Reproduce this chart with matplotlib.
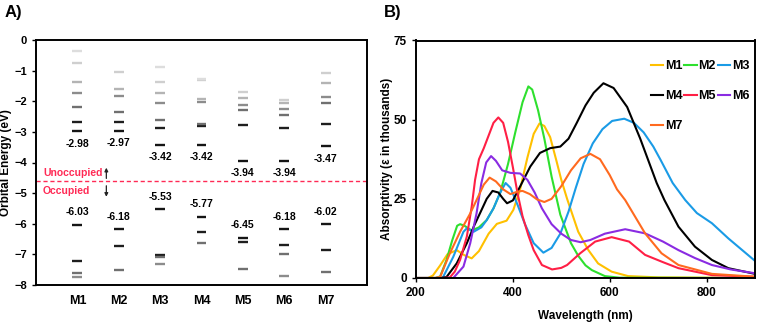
import numpy as np
import matplotlib.pyplot as plt
from matplotlib.lines import Line2D

plt.rcParams["font.family"] = ["Liberation Sans", "DejaVu Sans"]
plt.rcParams["font.weight"] = "bold"

# ---------------- panel A: orbital energies (eV) ----------------
molecules = ["M1", "M2", "M3", "M4", "M5", "M6", "M7"]
# unoccupied levels, LUMO first
m1_unocc = [-2.98, -2.68, -2.19, -1.73, -1.37, -0.76, -0.36]
m2_unocc = [-2.97, -2.68, -2.34, -1.84, -1.59, -1.05]
m3_unocc = [-3.42, -2.87, -2.61, -2.06, -1.73, -1.37, -0.87]
m4_unocc = [-3.42, -2.82, -2.74, -2.02, -1.92, -1.31, -1.26]
m5_unocc = [-3.94, -2.77, -2.29, -2.12, -1.89, -1.70]
m6_unocc = [-3.94, -2.87, -2.46, -2.25, -2.05, -1.97]
m7_unocc = [-3.47, -2.74, -2.07, -1.86, -1.42, -1.08]
# occupied levels, HOMO first
m1_occ = [-6.03, -7.23, -7.60, -7.75]
m2_occ = [-6.18, -6.74, -7.52]
m3_occ = [-5.53, -7.02, -7.09, -7.31]
m4_occ = [-5.77, -6.27, -6.62]
m5_occ = [-6.45, -6.61, -7.47]
m6_occ = [-6.18, -6.69, -6.98, -7.70]
m7_occ = [-6.02, -6.87, -7.57]
unocc_levels = [m1_unocc, m2_unocc, m3_unocc, m4_unocc, m5_unocc, m6_unocc, m7_unocc]
occ_levels = [m1_occ, m2_occ, m3_occ, m4_occ, m5_occ, m6_occ, m7_occ]
fermi_line = -4.61

# ---------------- panel B: absorption spectra ----------------
m1_nm = [200, 225, 235, 250, 265, 284, 300, 315, 330, 350, 367, 387, 401, 415, 430, 443, 455, 465, 477,
         490, 500, 512, 535, 556, 576, 604, 638, 700, 900]
m1_eps = [0, 0, 0.8, 4, 7.5, 8.8, 7.2, 6.2, 8.5, 14, 17.1, 18.1, 21.5, 28, 38, 45.5, 48.8, 48, 44.5,
          37, 31, 25, 14.6, 8.8, 4.6, 2, 0.6, 0.2, 0]
m2_nm = [200, 240, 250, 263, 275, 285, 291, 300, 315, 330, 346, 360, 374, 390, 405, 420, 432, 440, 452,
         465, 480, 498, 520, 535, 550, 563, 590, 620, 900]
m2_eps = [0, 0, 0.5, 5.7, 12, 16.5, 17, 16.5, 15, 16, 18.3, 22, 27, 36, 46, 55.5, 60.5, 59.5, 53,
          44, 32, 20, 11, 7, 4, 2.5, 0.6, 0.1, 0]
m3_nm = [200, 255, 277, 298, 305, 319, 335, 346, 360, 374, 385, 395, 410, 425, 443, 463, 480, 498, 515,
         530, 546, 565, 585, 605, 630, 650, 670, 690, 705, 730, 756, 780, 811, 845, 900]
m3_eps = [0, 0, 6.7, 14.6, 15.7, 14.6, 16, 18.3, 22, 27, 30, 28.5, 23, 17, 11, 8, 9.5, 14, 21,
          28.5, 36, 42.5, 47, 49.6, 50.3, 49, 46, 41.5, 37.3, 30, 24.6, 20.5, 17.3, 12.5, 5.4]
m4_nm = [200, 250, 263, 284, 305, 320, 332, 346, 358, 370, 380, 388, 400, 415, 436, 456, 477, 498, 515,
         532, 550, 567, 587, 608, 636, 663, 680, 697, 713, 742, 776, 811, 845, 900]
m4_eps = [0, 0, 0.3, 4.6, 11, 16.5, 20.4, 25, 27.5, 27, 25, 23.6, 24.5, 28.9, 35.2, 39.5, 41, 41.5, 44,
          49, 54.5, 58.5, 61.5, 60, 54, 44, 37, 30, 24.6, 16.2, 9.9, 5.7, 3.1, 1.3]
m5_nm = [200, 255, 270, 280, 291, 305, 315, 322, 330, 340, 350, 360, 370, 380, 390, 400, 410, 420, 432,
         443, 460, 481, 500, 512, 539, 570, 604, 640, 673, 710, 742, 811, 900]
m5_eps = [0, 0, 0.2, 2, 5.7, 13.1, 22.5, 31, 37.5, 41, 45, 49, 50.7, 49, 43, 35, 26.5, 19.5, 13.5,
          8.8, 4.1, 2.7, 3.2, 4.1, 7.8, 11.5, 12.9, 11.5, 7.3, 5, 3.1, 0.9, 0.4]
m6_nm = [200, 277, 298, 312, 325, 335, 345, 355, 365, 378, 395, 415, 430, 445, 460, 480, 500, 520, 540,
         560, 590, 632, 673, 710, 742, 776, 811, 850, 900]
m6_eps = [0, 0, 3.6, 11, 20.4, 30, 36.5, 38.5, 37, 34, 33.2, 33, 31, 27, 22, 17, 14, 12, 11.3,
          12, 14, 15.4, 14.1, 11.5, 8.8, 6.3, 4.1, 2.7, 1.5]
m7_nm = [200, 240, 250, 270, 291, 312, 325, 340, 352, 365, 380, 395, 410, 420, 435, 450, 465, 480, 500,
         520, 540, 560, 580, 600, 615, 632, 673, 707, 742, 811, 900]
m7_eps = [0, 0, 0.4, 7.8, 14.6, 20.4, 24.6, 29.5, 31.7, 30.5, 28, 26.5, 27.3, 27.5, 26.5, 24.8, 24, 25, 29,
          34, 37.8, 39.2, 37.5, 32.5, 28, 24.6, 14.1, 7.8, 4.1, 1.3, 0.4]
spectra = [(m1_nm, m1_eps), (m2_nm, m2_eps), (m3_nm, m3_eps), (m4_nm, m4_eps),
           (m5_nm, m5_eps), (m6_nm, m6_eps), (m7_nm, m7_eps)]
colors = ["#FFC000", "#2EE02E", "#1A9BE6", "#000000", "#FF1F45", "#8A2BE2", "#FF6A1F"]

fig = plt.figure(figsize=(7.58, 3.24), dpi=100)

# ---- panel A ----
axA = fig.add_axes([36 / 758, 39 / 324, 331 / 758, 245 / 324])
greys = ["#151515", "#1e1e1e", "#707070", "#8c8c8c", "#b4b4b4", "#cfcfcf", "#dddddd"]
half = 0.12
for i, (up, down) in enumerate(zip(unocc_levels, occ_levels)):
    x = i + 1
    for j, e in enumerate(up):
        axA.plot([x - half, x + half], [e, e], color=greys[min(j, 6)], lw=1.7, solid_capstyle="butt")
    for j, e in enumerate(down):
        axA.plot([x - half, x + half], [e, e], color=greys[min(j, 6)], lw=1.7, solid_capstyle="butt")
    axA.annotate(f"{up[0]:.2f}", (x, up[0]), xytext=(0, -9), textcoords="offset points",
                 ha="center", va="center", fontsize=7.5, fontweight="bold")
    axA.annotate(f"{down[0]:.2f}", (x, down[0]), xytext=(0, 9), textcoords="offset points",
                 ha="center", va="center", fontsize=7.5, fontweight="bold")

axA.axhline(fermi_line, color="#FF2A55", lw=1.0, ls=(0, (3, 2)))
axA.text(0.17, -4.34, "Unoccupied", color="#FF2A55", fontsize=7.5, fontweight="bold", va="center")
axA.text(0.17, -4.93, "Occupied", color="#FF2A55", fontsize=7.5, fontweight="bold", va="center")
arrow = dict(arrowstyle="-|>", lw=0.9, color="#222222", mutation_scale=5, shrinkA=0, shrinkB=0)
axA.annotate("", xy=(1.7, -4.17), xytext=(1.7, -4.52), arrowprops=arrow)
axA.annotate("", xy=(1.7, -5.12), xytext=(1.7, -4.76), arrowprops=arrow)

axA.set_xlim(0, 8)
axA.set_ylim(-8, 0)
axA.set_xticks(range(1, 8))
axA.set_xticklabels(molecules, fontsize=9, fontweight="bold")
axA.set_yticks(range(-8, 1))
axA.tick_params(axis="x", length=0, pad=7)
axA.tick_params(axis="y", length=3, width=1, labelsize=8, direction="out")
for lab in axA.get_yticklabels():
    lab.set_fontweight("bold")
axA.set_ylabel("Orbital Energy (eV)", fontsize=8.5, fontweight="bold")
axA.yaxis.set_label_coords(-0.072, 0.5)
for sp in axA.spines.values():
    sp.set_linewidth(1.4)

# ---- panel B ----
axB = fig.add_axes([416 / 758, 46 / 324, 339 / 758, 237.5 / 324])
for (nm, eps), c, name in zip(spectra, colors, molecules):
    axB.plot(nm, eps, color=c, lw=1.5, label=name)
axB.set_xlim(200, 900)
axB.set_ylim(0, 75)
axB.set_xticks([200, 400, 600, 800])
axB.set_yticks([0, 25, 50, 75])
axB.tick_params(length=3, width=1, labelsize=8.5, direction="out")
for lab in axB.get_xticklabels() + axB.get_yticklabels():
    lab.set_fontweight("bold")
axB.set_xlabel("Wavelength (nm)", fontsize=8.5, fontweight="bold", labelpad=8)
axB.set_ylabel("Absorptivity (\u03b5 in thousands)", fontsize=8.5, fontweight="bold")
axB.yaxis.set_label_coords(-0.068, 0.5)
for sp in axB.spines.values():
    sp.set_linewidth(1.4)

order = [0, 3, 6, 1, 4, 2, 5]
handles = [Line2D([], [], color=colors[k], lw=1.5) for k in order]
labels = [molecules[k] for k in order]
axB.legend(handles, labels, ncol=3, loc="upper right", bbox_to_anchor=(1.005, 0.95),
           frameon=False, fontsize=9, handlelength=1.0, handletextpad=0.12,
           columnspacing=0.15, labelspacing=1.45, borderaxespad=0.2)

fig.text(5 / 758, 1 - 12 / 324, "A)", fontsize=12, fontweight="bold", va="center")
fig.text(384 / 758, 1 - 12 / 324, "B)", fontsize=12, fontweight="bold", va="center")

fig.savefig("out.png", dpi=100)
